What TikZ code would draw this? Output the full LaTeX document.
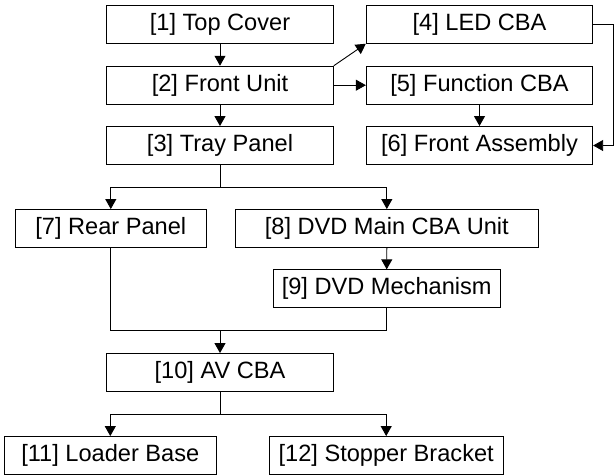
\documentclass[tikz,border=0pt]{standalone}
\usepackage{fontspec}
\setmainfont{Liberation Sans}
\usetikzlibrary{arrows.meta}
\begin{document}
\begin{tikzpicture}[x=1pt,y=-1pt,
  box/.style={draw=black,line width=0.9pt,inner sep=0pt,minimum height=38pt,
    font=\fontsize{23.6}{28}\selectfont},
  conn/.style={line width=0.9pt},
  arr/.style={conn,-{Triangle[length=10pt,width=11pt]}}]
\useasboundingbox (0,0) rectangle (615,475);
\node[box,minimum width=226.6pt] (b1) at (220,24.3) {[1] Top Cover};
\node[box,minimum width=226.6pt] (b2) at (220,85.2) {[2] Front Unit};
\node[box,minimum width=226.6pt] (b3) at (220,145.5) {[3] Tray Panel};
\node[box,minimum width=226.4pt] (b4) at (479.5,24.3) {[4] LED CBA};
\node[box,minimum width=226.4pt] (b5) at (479.5,85.2) {[5] Function CBA};
\node[box,minimum width=226.4pt] (b6) at (479.5,145.5) {[6] Front Assembly};
\node[box,minimum width=190.3pt] (b7) at (110.8,228.5) {[7] Rear Panel};
\node[box,minimum width=302.3pt] (b8) at (386.8,228.5) {[8] DVD Main CBA Unit};
\node[box,minimum width=226.7pt] (b9) at (386.7,288.8) {[9] DVD Mechanism};
\node[box,minimum width=226.6pt] (b10) at (220,372.5) {[10] AV CBA};
\node[box,minimum width=212.7pt] (b11) at (110.3,455.5) {[11] Loader Base};
\node[box,minimum width=233.7pt] (b12) at (386.2,455.5) {[12] Stopper Bracket};
\coordinate (r) at (613.3,24.3);
\coordinate (j1) at (220,187.3);
\coordinate (j2) at (220,330.7);
\coordinate (j3) at (220,414.3);
\draw[arr] (b1.south) -- (b2.north);
\draw[arr] (b2.south) -- (b3.north);
\draw[arr] (b2.north east) -- (b4.south west);
\draw[arr] (b2.east) -- (b5.west);
\draw[arr] (b5.south) -- (b6.north);
\draw[arr] (b4.east) -- (r) |- (b6.east);
\draw[conn] (b3.south) -- (j1);
\draw[arr] (j1) -| (b7.north);
\draw[arr] (j1) -| (b8.north);
\draw[arr] (b8.south) -- (b9.north);
\draw[conn] (b7.south) |- (j2) -| (b9.south);
\draw[arr] (j2) -- (b10.north);
\draw[conn] (b10.south) -- (j3);
\draw[arr] (j3) -| (b11.north);
\draw[arr] (j3) -| (b12.north);
\end{tikzpicture}
\end{document}
